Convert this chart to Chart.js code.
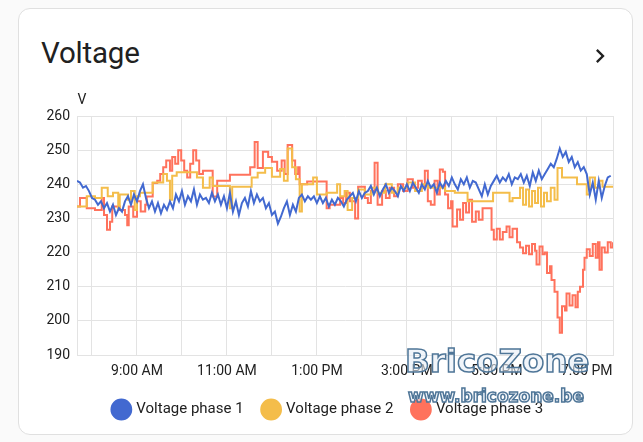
<!DOCTYPE html>
<html>
<head>
<meta charset="utf-8">
<script src="https://cdn.jsdelivr.net/npm/chart.js@4.4.1/dist/chart.umd.min.js"></script>
<style>
  html, body { margin: 0; padding: 0; }
  body { width: 643px; height: 442px; background: #fafafa; position: relative; overflow: hidden; font-family: Roboto, sans-serif; }
  .card { position: absolute; left: 18px; top: 8px; width: 613px; height: 425px; background: #fff; border: 1px solid #e0e0e0; border-radius: 12px; }
  .title { position: absolute; left: 41px; top: 35px; font-size: 29.5px; line-height: 36px; color: #212121; letter-spacing: -0.2px; }
  .chev { position: absolute; left: 586px; top: 42px; width: 28px; height: 28px; }
  .wrap { position: absolute; left: 18px; top: 86px; width: 615px; height: 346px; }
  .wm { position: absolute; pointer-events: none; font-family: "DejaVu Sans", sans-serif; font-weight: bold; color: rgba(232,239,246,0.6); -webkit-text-stroke: 1.5px #4f7698; white-space: nowrap; }
  .wm1 { left: 405px; top: 344px; font-size: 32.5px; line-height: 34px; }
  .wm2 { left: 408px; top: 388px; font-size: 17px; line-height: 17px; }
</style>
</head>
<body>
<div class="card"></div>
<div class="title">Voltage</div>
<svg class="chev" viewBox="0 0 24 24"><path fill="#212121" d="M8.59,16.58L13.17,12L8.59,7.41L10,6L16,12L10,18L8.59,16.58Z"/></svg>
<div class="wrap"><canvas id="voltageChart"></canvas></div>
<div class="wm wm1">BricoZone</div>
<div class="wm wm2">www.bricozone.be</div>

<script>
// time is minutes after midnight
const xMin = 460;   // 07:40
const xMax = 1175;  // 19:35
const hourTicks = [480, 540, 600, 660, 720, 780, 840, 900, 960, 1020, 1080, 1140];
const xLabelMinutes = [540, 660, 780, 900, 1020, 1140];
const xLabels = ["9:00 AM", "11:00 AM", "1:00 PM", "3:00 PM", "5:00 PM", "7:00 PM"];
const yTicks = [190, 200, 210, 220, 230, 240, 250, 260];

const seriesNames = ["Voltage phase 1", "Voltage phase 2", "Voltage phase 3"];
const seriesColors = ["#4269d0", "#f4bd4a", "#ff725c"];

// phase 1: one reading every 4 minutes from 07:40
const phase1Start = 460;
const phase1Step = 4;
const phase1Values = [
  241, 240.5, 239, 239.5,
  238, 236, 235.5, 234,
  235, 233, 234.5, 232, 234, 231, 233, 232,
  235, 236.5, 234, 237, 235, 238, 240,
  236, 233, 235, 232, 234.5, 231.5, 234, 232.5, 235, 233,
  237, 235, 238, 234, 236.5, 235, 238.5, 234, 237, 235.5, 236, 234.5, 237.5, 235,
  237, 234, 236.5, 233, 237.5, 232, 235, 231, 234.5, 236, 233.5,
  238, 234.5, 237, 235, 236,
  233, 234.5, 231, 232, 228.5, 230.5,
  233, 235, 231, 234, 232,
  236, 237, 235, 236.5, 235.5, 236.5, 234.5, 236.5,
  234.5, 236, 233.5, 235.5, 234, 236, 235, 233.5, 235.5, 236.5,
  237.5, 235, 238, 236, 237.5,
  238, 239.5, 237, 239, 236.5, 238.5, 240, 237.5, 239, 238, 236.5, 239.5, 238,
  240, 238, 240.5, 239, 237.5, 240, 238.5, 241, 239, 240, 237.5, 240.5, 239,
  241, 239.5, 242, 240, 238.5, 241.5, 240, 242, 239, 241, 240.5, 238.5, 236.5,
  240, 237, 239.5,
  241, 242.5, 240.5, 242, 241, 243, 240, 242, 241.5,
  243, 240.5, 242.5, 239.5, 243.5, 241, 244, 241.5, 243,
  244.5, 246, 245, 247.5, 250.5,
  248, 249.5, 246.5, 248, 245, 246.5, 244, 245, 243,
  237, 240.5, 235.5, 241, 236, 239.5, 242,
  242.5
];

// phase 2: value changes (minutes, volts)
const phase2Minutes = [
  460, 473, 484, 493, 501, 508, 515, 517, 528, 532, 537, 540, 544, 561, 575, 580, 584, 587, 593,
  620, 628, 637, 641, 664, 667, 693, 701, 711, 720, 731, 736, 741, 747, 752, 757, 760, 775, 780,
  793, 807, 811, 817, 821, 827, 835, 844, 853, 861, 871, 880, 888, 901, 911, 920, 928, 951, 964,
  981, 1015, 1037, 1041, 1051, 1055, 1059, 1063, 1067, 1071, 1075, 1079, 1083, 1087, 1092, 1097,
  1101, 1107, 1127, 1140, 1144, 1151, 1157, 1161, 1175
];
const phase2Values = [
  233.5, 236.5, 236, 239, 236.5, 237.5, 233, 237, 235.5, 238, 232.5, 236.5, 237.5, 240.5, 243, 241, 235.5, 242.5, 243.5,
  242, 239, 242, 239.5, 233, 239.3, 242, 243.4, 244.8, 242.2, 244.5, 241, 250.5, 245, 241.5, 232, 240, 242, 237,
  237.5, 240, 236.5, 238, 232.5, 236, 238.5, 237, 239, 237.5, 240, 237.5, 239, 240.5, 238, 240, 239, 238, 237.5,
  235, 237.5, 235, 236, 239, 234, 238.5, 233.5, 238, 234.5, 239, 233.5, 237.5, 235, 239, 235.5,
  244.8, 242, 240, 237, 242, 239, 241, 239.3, 239.3
];

// phase 3: value changes (minutes, volts)
const phase3Minutes = [
  460, 464, 473, 484, 493, 496, 500, 504, 507, 517, 524, 527, 529, 535, 540, 545, 551, 553, 561, 567,
  571, 575, 579, 584, 587, 591, 595, 599, 603, 607, 611, 615, 619, 623, 628, 641, 647, 664, 691, 697,
  701, 708, 715, 720, 727, 733, 737, 741, 747, 751, 755, 757, 767, 793, 797, 811, 815, 819, 824, 831,
  835, 844, 848, 852, 857, 861, 867, 872, 877, 883, 888, 895, 901, 908, 915, 920, 924, 928, 932, 937,
  941, 944, 948, 951, 955, 959, 961, 967, 971, 975, 979, 983, 987, 992, 996, 1001, 1013, 1016, 1020, 1024,
  1028, 1033, 1037, 1041, 1047, 1051, 1055, 1059, 1063, 1067, 1071, 1073, 1077, 1081, 1084, 1087, 1091, 1093, 1097, 1101,
  1104, 1107, 1111, 1113, 1117, 1121, 1125, 1128, 1131, 1135, 1137, 1140, 1144, 1148, 1152, 1155, 1157, 1160, 1164, 1168,
  1172, 1175
];
const phase3Values = [
  233.5, 236, 233, 232.5, 236, 231, 226.7, 229, 233.5, 232.5, 231, 228, 233.5, 230.5, 235, 232, 234, 236.4, 240.4, 241,
  243, 245, 247, 244, 248, 246, 250, 247, 244, 242, 246, 250, 247, 243, 244, 236.4, 241, 242.8, 245, 252.4,
  244.8, 249.5, 248, 246.6, 244, 247, 243, 251.5, 247, 243, 245, 240, 240.8, 233, 234, 236, 234.5, 237.5, 235, 230,
  239.3, 236, 234.5, 238, 246.3, 234, 238, 236, 239, 236.5, 240, 238, 241.5, 239, 241, 239, 244, 235, 234, 241,
  237, 244.3, 243.7, 237, 233, 235, 227.6, 232.6, 229.6, 234.5, 231.7, 235.5, 229, 232, 229.6, 233, 226.7, 223.8, 227, 223.8,
  226, 227.6, 224.5, 227, 223, 221.5, 219.8, 222, 219.5, 222.5, 220.5, 216.5, 221.8, 219.5, 220, 214, 216, 212, 208.5, 201,
  196.5, 204.3, 203, 208, 204.5, 207.5, 204, 208.5, 210, 215, 218.5, 221, 219, 222.5, 218.5, 223, 215, 221.5, 220, 223,
  221.5, 223
];

const phase1Points = phase1Values.map((v, i) => ({ x: phase1Start + i * phase1Step, y: v }));
const phase2Points = phase2Minutes.map((m, i) => ({ x: m, y: phase2Values[i] }));
const phase3Points = phase3Minutes.map((m, i) => ({ x: m, y: phase3Values[i] }));

// unit "V" above the y axis
const unitLabel = {
  id: "unitLabel",
  afterDraw(chart) {
    const { ctx, chartArea } = chart;
    ctx.save();
    ctx.font = "14px Roboto";
    ctx.fillStyle = "#212121";
    ctx.textAlign = "center";
    ctx.textBaseline = "middle";
    ctx.fillText("V", chartArea.left + 5, chartArea.top - 16);
    ctx.restore();
  }
};

Chart.defaults.font.family = "Roboto";
Chart.defaults.font.size = 14;
Chart.defaults.color = "#212121";

const makeDataset = (i, points, stepped) => ({
  label: seriesNames[i],
  data: points,
  borderColor: seriesColors[i],
  backgroundColor: seriesColors[i],
  borderWidth: 2,
  pointRadius: 0,
  stepped: stepped,
  tension: 0,
});

new Chart(document.getElementById("voltageChart"), {
  type: "line",
  data: {
    datasets: [
      makeDataset(0, phase1Points, false),
      makeDataset(1, phase2Points, true),
      makeDataset(2, phase3Points, true),
    ],
  },
  options: {
    responsive: true,
    maintainAspectRatio: false,
    animation: false,
    layout: { padding: { left: 26, right: 20, top: 30, bottom: 5 } },
    plugins: {
      tooltip: { enabled: false },
      legend: {
        position: "bottom",
        labels: {
          usePointStyle: true,
          pointStyle: "circle",
          boxHeight: 14,
          padding: 20,
          color: "#212121",
          font: { size: 15 },
        },
      },
    },
    scales: {
      x: {
        type: "linear",
        min: xMin,
        max: xMax,
        afterBuildTicks: (scale) => {
          scale.ticks = [xMin, ...hourTicks, xMax].map((v) => ({ value: v }));
        },
        afterFit: (scale) => { scale.height = 27; },
        ticks: {
          autoSkip: false,
          maxRotation: 0,
          padding: 8,
          color: "#212121",
          callback: (v) => {
            const k = xLabelMinutes.indexOf(v);
            return k >= 0 ? xLabels[k] : "";
          },
        },
        grid: { color: "#e3e3e3", drawTicks: false },
        border: { color: "#e3e3e3" },
      },
      y: {
        min: yTicks[0],
        max: yTicks[yTicks.length - 1],
        afterBuildTicks: (scale) => {
          scale.ticks = yTicks.map((v) => ({ value: v }));
        },
        afterFit: (scale) => { scale.width = 33; },
        ticks: { padding: 7, color: "#212121" },
        grid: { color: "#e3e3e3", drawTicks: false },
        border: { color: "#e3e3e3" },
      },
    },
  },
  plugins: [unitLabel],
});
</script>
</body>
</html>
